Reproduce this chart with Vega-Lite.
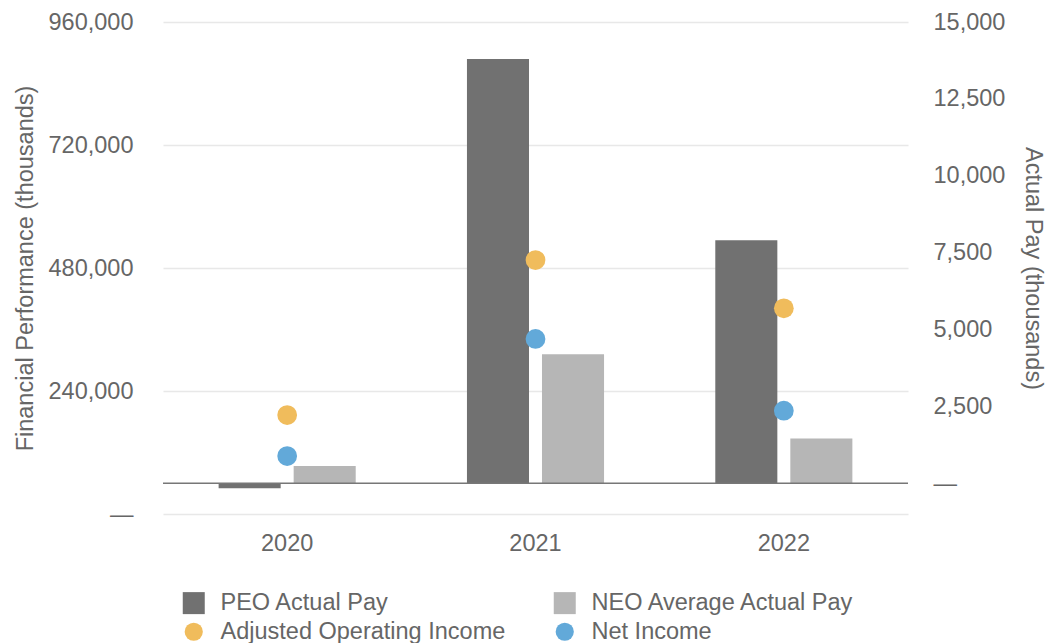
{
  "$schema": "https://vega.github.io/schema/vega-lite/v6.json",
  "width": 745,
  "height": 492,
  "autosize": {"type": "none"},
  "padding": {"left": 163, "top": 22, "right": 140, "bottom": 129},
  "background": "white",
  "config": {
    "view": {"stroke": null},
    "font": "Liberation Sans",
    "axis": {
      "labelFont": "Liberation Sans",
      "titleFont": "Liberation Sans",
      "labelFontSize": 23.5,
      "titleFontSize": 23.5,
      "labelColor": "#666666",
      "titleColor": "#666666",
      "titleFontWeight": "normal",
      "domain": false,
      "ticks": false
    }
  },
  "datasets": {
    "pay": [
      {"year": "2020", "series": "PEO Actual Pay", "value": -160},
      {"year": "2020", "series": "NEO Average Actual Pay", "value": 563},
      {"year": "2021", "series": "PEO Actual Pay", "value": 13800},
      {"year": "2021", "series": "NEO Average Actual Pay", "value": 4195},
      {"year": "2022", "series": "PEO Actual Pay", "value": 7900},
      {"year": "2022", "series": "NEO Average Actual Pay", "value": 1453}
    ],
    "perf": [
      {"year": "2020", "series": "Adjusted Operating Income", "value": 193000},
      {"year": "2020", "series": "Net Income", "value": 113000},
      {"year": "2021", "series": "Adjusted Operating Income", "value": 495600},
      {"year": "2021", "series": "Net Income", "value": 341500},
      {"year": "2022", "series": "Adjusted Operating Income", "value": 401400},
      {"year": "2022", "series": "Net Income", "value": 201600}
    ]
  },
  "layer": [
    {
      "layer": [
        {
          "data": {"name": "pay"},
          "mark": {"type": "bar"},
          "encoding": {
            "x": {
              "field": "year",
              "type": "nominal",
              "scale": {"paddingInner": 0.448, "paddingOuter": 0.224},
              "axis": {"title": null, "labelPadding": 17, "labelAngle": 0, "grid": false}
            },
            "xOffset": {
              "field": "series",
              "type": "nominal",
              "scale": {"domain": ["PEO Actual Pay", "NEO Average Actual Pay"], "paddingInner": 0.173, "paddingOuter": 0}
            },
            "y": {
              "field": "value",
              "type": "quantitative",
              "scale": {"domain": [-1000, 15000], "nice": false, "zero": false},
              "axis": {
                "orient": "right",
                "title": "Actual Pay (thousands)",
                "values": [0, 2500, 5000, 7500, 10000, 12500, 15000],
                "labelExpr": "datum.value == 0 ? '—' : format(datum.value, ',')",
                "grid": false,
                "labelPadding": 25,
                "titleX": 124,
                "titleY": 246,
                "titleAngle": 90,
                "titleBaseline": "middle",
                "titleAlign": "center"
              }
            },
            "color": {
              "field": "series",
              "type": "nominal",
              "scale": {
                "domain": ["PEO Actual Pay", "NEO Average Actual Pay", "Adjusted Operating Income", "Net Income"],
                "range": ["#717171", "#b6b6b6", "#f0bc5c", "#62a9d9"]
              },
              "legend": {
                "title": null,
                "orient": "none",
                "direction": "horizontal",
                "legendX": 19,
                "legendY": 569,
                "columns": 2,
                "symbolSize": 484,
                "symbolStrokeWidth": 0,
                "symbolOpacity": 1,
                "labelFont": "Liberation Sans",
                "labelFontSize": 23.5,
                "labelColor": "#666666",
                "labelLimit": 500,
                "labelOffset": 15,
                "columnPadding": 47,
                "rowPadding": 4,
                "padding": 0,
                "encode": {
                  "symbols": {
                    "update": {
                      "shape": {"signal": "(datum.value == 'PEO Actual Pay' || datum.value == 'NEO Average Actual Pay') ? 'square' : 'circle'"},
                      "size": {"signal": "(datum.value == 'PEO Actual Pay' || datum.value == 'NEO Average Actual Pay') ? 484 : 330"}
                    }
                  }
                }
              }
            }
          }
        },
        {
          "data": {"values": [{}]},
          "mark": {"type": "rule", "color": "#777777", "strokeWidth": 1.5},
          "encoding": {"y": {"datum": 0, "type": "quantitative"}}
        }
      ]
    },
    {
      "data": {"name": "perf"},
      "mark": {"type": "circle", "size": 390, "opacity": 1},
      "encoding": {
        "x": {"field": "year", "type": "nominal"},
        "y": {
          "field": "value",
          "type": "quantitative",
          "scale": {"domain": [0, 960000], "nice": false},
          "axis": {
            "orient": "left",
            "title": "Financial Performance (thousands)",
            "values": [0, 240000, 480000, 720000, 960000],
            "labelExpr": "datum.value == 0 ? '—' : format(datum.value, ',')",
            "grid": true,
            "gridColor": "#e8e8e8",
            "gridWidth": 1.5,
            "labelPadding": 30,
            "titleX": -138,
            "titleY": 246,
            "titleAngle": -90,
            "titleBaseline": "middle",
            "titleAlign": "center"
          }
        },
        "color": {
          "field": "series",
          "type": "nominal",
          "legend": {
            "title": null,
            "orient": "none",
            "direction": "horizontal",
            "legendX": 19,
            "legendY": 569,
            "columns": 2,
            "symbolSize": 484,
            "symbolStrokeWidth": 0,
            "symbolOpacity": 1,
            "labelFont": "Liberation Sans",
            "labelFontSize": 23.5,
            "labelColor": "#666666",
            "labelLimit": 500,
            "labelOffset": 15,
            "columnPadding": 47,
            "rowPadding": 4,
            "padding": 0,
            "encode": {
              "symbols": {
                "update": {
                  "shape": {"signal": "(datum.value == 'PEO Actual Pay' || datum.value == 'NEO Average Actual Pay') ? 'square' : 'circle'"},
                  "size": {"signal": "(datum.value == 'PEO Actual Pay' || datum.value == 'NEO Average Actual Pay') ? 484 : 330"}
                }
              }
            }
          }
        }
      }
    }
  ],
  "resolve": {"scale": {"y": "independent"}}
}
